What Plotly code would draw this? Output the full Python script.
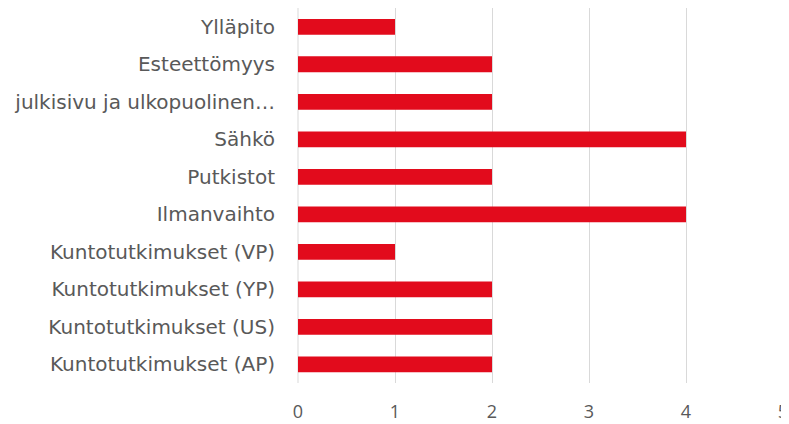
import plotly.graph_objects as go

categories = [
    "Kuntotutkimukset (AP)",
    "Kuntotutkimukset (US)",
    "Kuntotutkimukset (YP)",
    "Kuntotutkimukset (VP)",
    "Ilmanvaihto",
    "Putkistot",
    "Sähkö",
    "julkisivu ja ulkopuolinen…",
    "Esteettömyys",
    "Ylläpito",
]
values = [2, 2, 2, 1, 4, 2, 4, 2, 2, 1]
x_ticks = [0, 1, 2, 3, 4, 5]

fig = go.Figure(
    go.Bar(
        y=categories,
        x=values,
        orientation="h",
        marker=dict(color="#E20B1C", line=dict(width=0)),
        hoverinfo="x+y",
    )
)

# page body has a default 8px margin, so the figure is sized to fit the window
fig.update_layout(
    width=781,
    height=416,
    margin=dict(l=290, r=6, t=0, b=41, autoexpand=False),
    paper_bgcolor="white",
    plot_bgcolor="white",
    bargap=0.58,
    showlegend=False,
    font=dict(family="'DejaVu Sans', sans-serif", color="#595959"),
)

fig.update_xaxes(
    range=[0, 5],
    tickvals=x_ticks,
    showgrid=True,
    gridcolor="#D9D9D9",
    gridwidth=1,
    zeroline=False,
    showline=False,
    ticks="",
    automargin=False,
    ticklabeloverflow="allow",
    tickfont=dict(family="'Open Sans', 'Liberation Sans', sans-serif", size=18, color="#595959"),
    ticklabelstandoff=16,
)

fig.update_yaxes(
    categoryorder="array",
    categoryarray=categories,
    showgrid=False,
    zeroline=False,
    showline=False,
    ticks="",
    automargin=False,
    tickfont=dict(family="'DejaVu Sans', sans-serif", size=20, color="#595959"),
    ticklabelstandoff=22,
)

# edge gridlines (at 0 and 5) drawn in paper coordinates so they are not clipped
for px in (0, 1):
    fig.add_shape(
        type="line", xref="paper", yref="paper", x0=px, x1=px, y0=0, y1=1,
        line=dict(color="#D9D9D9", width=1), layer="below",
    )

fig.write_html("out.html")
